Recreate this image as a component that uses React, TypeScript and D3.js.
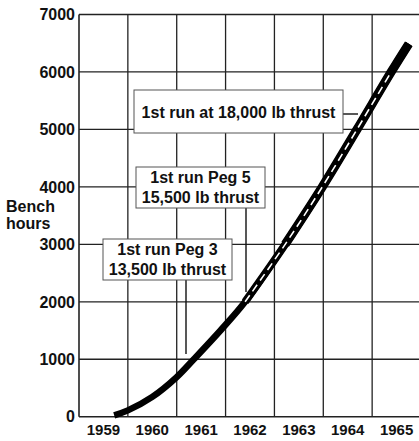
import React from "react";
import * as d3 from "d3";

const years = [1959.72, 1960.0, 1960.5, 1961.0, 1961.35, 1961.9, 1962.4, 1963.22, 1963.98, 1964.69, 1965.39, 1965.75];
const hours = [25, 110, 345, 690, 1000, 1505, 2000, 3000, 4000, 5000, 6000, 6490];
const yTicks = [0, 1000, 2000, 3000, 4000, 5000, 6000, 7000];
const xYears = [1959, 1960, 1961, 1962, 1963, 1964, 1965];
const gridYears = [1960, 1961, 1962, 1963, 1964, 1965];
const yLabel = ["Bench", "hours"];

type Note = { lines: string[]; box: [number, number, number, number]; leader: [number, number, number, number] };
const notes: Note[] = [
  { lines: ["1st run at 18,000 lb thrust"], box: [134, 90, 343, 133], leader: [343, 114, 358, 114] },
  { lines: ["1st run Peg 5", "15,500 lb thrust"], box: [136, 167, 265, 208], leader: [246, 208, 246, 292] },
  { lines: ["1st run Peg 3", "13,500 lb thrust"], box: [103, 239, 232, 280], leader: [186, 280, 186, 354] },
];

const W = 419, H = 441;
const x = d3.scaleLinear().domain([1959, 1966]).range([79, 421]);
const y = d3.scaleLinear().domain([0, 7000]).range([416.7, 14.5]);
const font = "'Liberation Sans', Arial, Helvetica, sans-serif";

export default function App() {
  const pts = years.map((yr, i) => [yr, hours[i]] as [number, number]);
  const line = d3.line<[number, number]>().x(d => x(d[0])).y(d => y(d[1])).curve(d3.curveCatmullRom.alpha(0.5));
  const mid = pts.filter(d => d[0] >= 1962.4);
  const upper = pts.filter(d => d[0] >= 1963.22);
  const dashed = pts.filter(d => d[0] >= 1962.4 && d[0] <= 1965.39);
  const gridColor = "#222";
  return (
    <svg width={W} height={H} style={{ position: "absolute", left: 0, top: 0, background: "#fff" }} fontFamily={font} fontWeight="bold">
      <rect x={0} y={0} width={W} height={H} fill="#fff" />
      {yTicks.map(t => (
        <line key={"h" + t} x1={x(1959)} x2={W} y1={y(t)} y2={y(t)} stroke={gridColor} strokeWidth={t === 0 || t === 7000 ? 1.6 : 1.3} />
      ))}
      {gridYears.map(g => (
        <line key={"v" + g} x1={x(g)} x2={x(g)} y1={y(7000)} y2={y(0)} stroke={gridColor} strokeWidth={1.3} />
      ))}
      <line x1={x(1959)} x2={x(1959)} y1={y(7000)} y2={y(0)} stroke={gridColor} strokeWidth={1.6} />
      {yTicks.map(t => (
        <text key={"yl" + t} x={75} y={y(t)} dy="0.36em" textAnchor="end" fontSize={16} fill="#111">{t}</text>
      ))}
      {xYears.map(yr => (
        <text key={"xl" + yr} x={x(yr + 0.5)} y={435} textAnchor="middle" fontSize={15} fill="#111">{yr}</text>
      ))}
      {yLabel.map((s, i) => (
        <text key={s} x={6} y={212 + i * 17} fontSize={16} fill="#111">{s}</text>
      ))}
      {notes.map((n, i) => (
        <g key={"n" + i}>
          <line x1={n.leader[0]} y1={n.leader[1]} x2={n.leader[2]} y2={n.leader[3]} stroke="#111" strokeWidth={1.4} />
          <rect x={n.box[0]} y={n.box[1]} width={n.box[2] - n.box[0]} height={n.box[3] - n.box[1]} fill="#fff" stroke="#555" strokeWidth={1} />
          {n.lines.map((l, j) => (
            <text key={j} x={(n.box[0] + n.box[2]) / 2} y={n.lines.length === 1 ? (n.box[1] + n.box[3]) / 2 + 6 : n.box[1] + 16 + j * 19.5} textAnchor="middle" fontSize={16} fill="#111">{l}</text>
          ))}
        </g>
      ))}
      <path d={line(pts) || ""} fill="none" stroke="#000" strokeWidth={6.5} strokeLinecap="butt" />
      <path d={line(mid) || ""} fill="none" stroke="#000" strokeWidth={7.8} strokeLinecap="butt" />
      <path d={line(upper) || ""} fill="none" stroke="#000" strokeWidth={9} strokeLinecap="butt" />
      <path d={line(dashed) || ""} fill="none" stroke="#fff" strokeWidth={1.6} strokeDasharray="8 5" />
    </svg>
  );
}
